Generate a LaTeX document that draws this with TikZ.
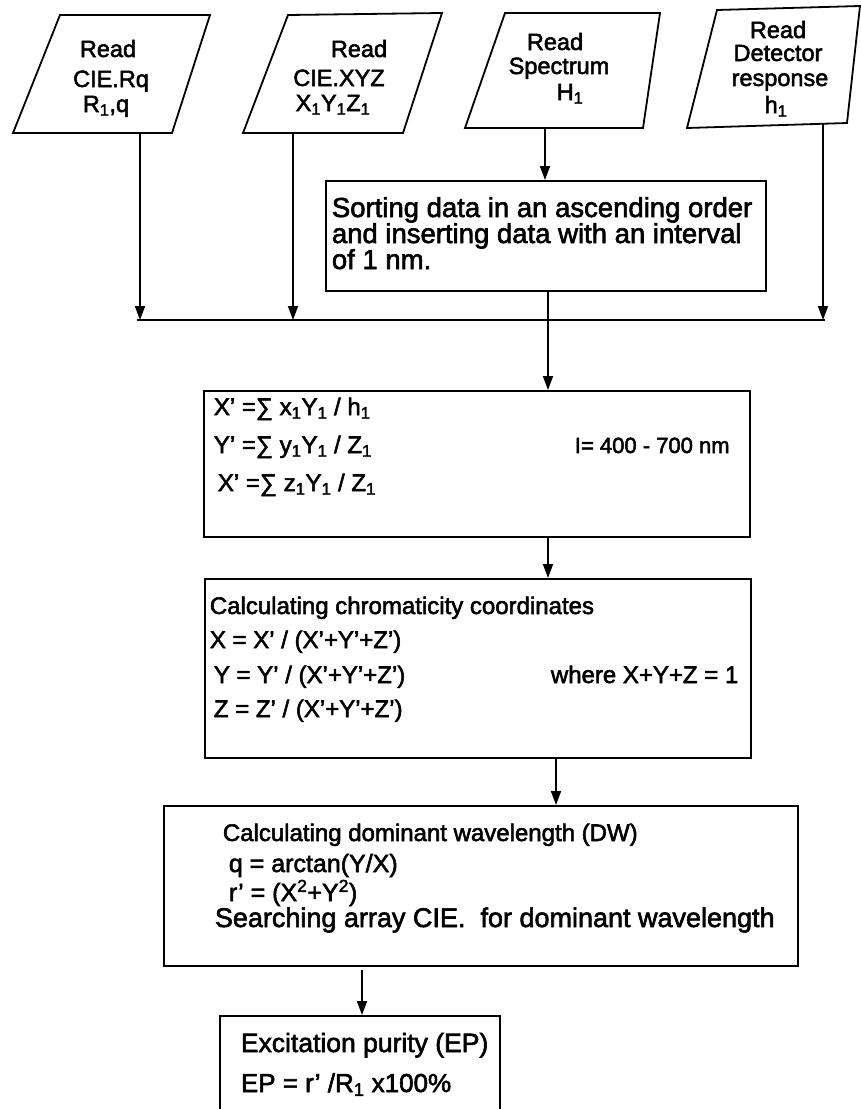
\documentclass[tikz,border=0pt]{standalone}
\usepackage{fontspec}
\setmainfont{Liberation Sans}[FakeBold=2.2]
\usetikzlibrary{arrows.meta}
\newcommand{\sub}[1]{\textsubscript{#1}}
\begin{document}
\begin{tikzpicture}[x=1pt,y=-1pt,
  line width=1.8pt,
  box/.style={draw, line width=1.8pt, inner sep=0pt, anchor=north west},
  ln/.style={font=\fontsize{24}{26}\selectfont, inner sep=0pt, anchor=base west},
  big/.style={font=\fontsize{27.5}{28}\selectfont},
  cl/.style={font=\fontsize{23.5}{25}\selectfont, inner sep=0pt, anchor=base},
  arr/.style={-{Triangle[length=14pt,width=10pt]}},
]
\useasboundingbox (0,0) rectangle (861,1109);
\begin{scope}
\clip (0,0) rectangle (861,1109);
% parallelograms (input)
\coordinate (p1a) at (60,15); \coordinate (p1b) at (210,15);
\coordinate (p1c) at (172,133); \coordinate (p1d) at (13,133);
\draw (p1a) -- (p1b) -- (p1c) -- (p1d) -- cycle;
\coordinate (p1o) at (140,133);
\coordinate (p2a) at (288,15); \coordinate (p2b) at (442,13);
\coordinate (p2c) at (403,133); \coordinate (p2d) at (243,133);
\draw (p2a) -- (p2b) -- (p2c) -- (p2d) -- cycle;
\coordinate (p2o) at (293,133);
\coordinate (p3a) at (505,13); \coordinate (p3b) at (660,13);
\coordinate (p3c) at (643,128); \coordinate (p3d) at (465,128);
\draw (p3a) -- (p3b) -- (p3c) -- (p3d) -- cycle;
\coordinate (p3o) at (545,128);
\coordinate (p4a) at (717,10); \coordinate (p4b) at (860,6);
\coordinate (p4c) at (847,123); \coordinate (p4d) at (687,128);
\draw (p4a) -- (p4b) -- (p4c) -- (p4d) -- cycle;
\coordinate (p4o) at (823,124);
% texts of parallelograms
\node[cl] (t1a) at (108,57) {Read};
\node[cl] (t1b) at (111,87) {CIE.Rq};
\node[cl] (t1c) at (106,112) {R\sub{1},q};
\node[cl] (t2a) at (359,57) {Read};
\node[cl] (t2b) at (339,86) {CIE.XYZ};
\node[cl] (t2c) at (333,111) {X\sub{1}Y\sub{1}Z\sub{1}};
\node[cl] (t3a) at (555,50) {Read};
\node[cl] (t3b) at (559,74) {Spectrum};
\node[cl] (t3c) at (570,100) {H\sub{1}};
\node[cl] (t4a) at (778,38) {Read};
\node[cl] (t4b) at (778,61) {Detector};
\node[cl] (t4c) at (780,86) {response};
\node[cl] (t4d) at (776,113) {h\sub{1}};
% process boxes
\node[box, minimum width=440pt, minimum height=110pt] (sort) at (325,180) {};
\node[ln, big] (s1) at (331,217) {Sorting data in an ascending order};
\node[ln, big] (s2) at (331,243) {and inserting data with an interval};
\node[ln, big] (s3) at (331,269) {of 1 nm.};
\node[box, minimum width=546pt, minimum height=146pt] (xbox) at (203,390) {};
\node[ln] (x1) at (213,415) {X’ =∑ x\sub{1}Y\sub{1} / h\sub{1}};
\node[ln] (x2) at (213,453) {Y’ =∑ y\sub{1}Y\sub{1} / Z\sub{1}};
\node[ln] (x3) at (217,491) {X’ =∑ z\sub{1}Y\sub{1} / Z\sub{1}};
\node[ln, font=\fontsize{22}{24}\selectfont] (x4) at (574,453) {I= 400 - 700 nm};
\node[box, minimum width=546pt, minimum height=179pt] (cbox) at (204,578) {};
\node[ln] (c1) at (209,614) {Calculating chromaticity coordinates};
\node[ln] (c2) at (209,648) {X = X’ / (X’+Y’+Z’)};
\node[ln] (c3) at (213,683) {Y = Y’ / (X’+Y’+Z’)};
\node[ln] (c4) at (213,717) {Z = Z’ / (X’+Y’+Z’)};
\node[ln] (c5) at (550,683) {where X+Y+Z = 1};
\node[box, minimum width=634pt, minimum height=160pt] (dbox) at (163,805) {};
\node[ln] (d1) at (222,841) {Calculating dominant wavelength (DW)};
\node[ln, font=\fontsize{25}{26}\selectfont] (d2) at (228,872) {q = arctan(Y/X)};
\node[ln, font=\fontsize{25}{26}\selectfont] (d3) at (228,901) {r’ = (X\textsuperscript{2}+Y\textsuperscript{2})};
\node[ln, font=\fontsize{27}{28}\selectfont] (d4) at (214,927) {Searching array CIE.~ for dominant wavelength};
\node[box, minimum width=280pt, minimum height=120pt] (ep) at (219,1015) {};
\node[ln, font=\fontsize{26.5}{28}\selectfont] (e1) at (240,1052) {Excitation purity (EP)};
\node[ln, font=\fontsize{26}{28}\selectfont] (e2) at (240,1092) {EP = r’ /R\sub{1} x100\%};
% connectors
\coordinate (hl) at (137,320); \coordinate (hr) at (825,320);
\draw (hl) -- (hr);
\draw[arr] (p1o) -- (p1o |- hl);
\draw[arr] (p2o) -- (p2o |- hl);
\draw[arr] (p4o) -- (p4o |- hl);
\draw[arr] (p3o) -- (p3o |- sort.north);
\coordinate (ax1) at (548,0);
\draw[arr] (sort.south -| ax1) -- (xbox.north -| ax1);
\draw[arr] (xbox.south -| ax1) -- (cbox.north -| ax1);
\coordinate (ax2) at (556,0);
\draw[arr] (cbox.south -| ax2) -- (dbox.north -| ax2);
\coordinate (ax3) at (362,0);
\draw[arr] ([yshift=-3pt]dbox.south -| ax3) -- (ep.north -| ax3);
\end{scope}
\end{tikzpicture}
\end{document}
